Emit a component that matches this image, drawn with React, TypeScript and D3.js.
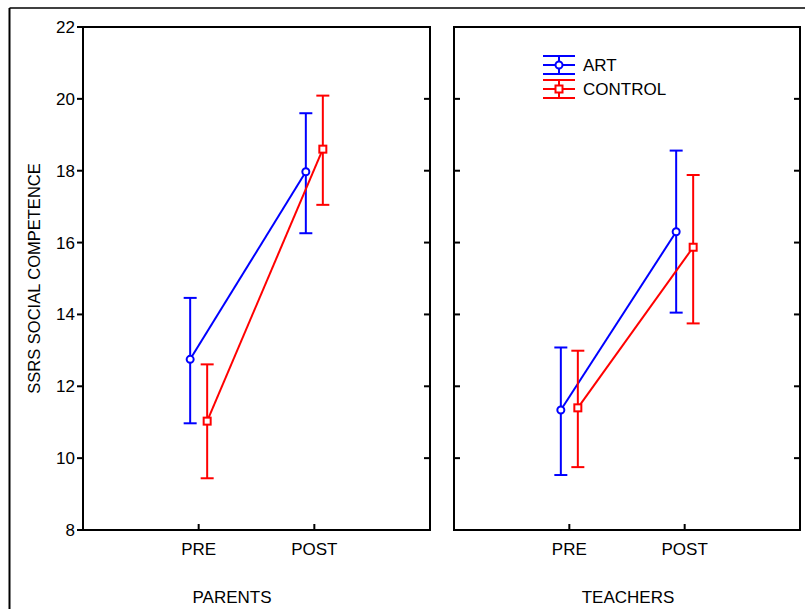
import React from 'react';
import * as d3 from 'd3';

// data
const groups = ['PARENTS', 'TEACHERS'];
const times = ['PRE', 'POST'];
const seriesNames = ['ART', 'CONTROL'];
const seriesColors = ['#0000ff', '#ff0000'];

// [group][time]
const artMean = [[12.75, 17.97], [11.34, 16.3]];
const artLow = [[10.97, 16.26], [9.53, 14.05]];
const artHigh = [[14.46, 19.6], [13.08, 18.56]];
const controlMean = [[11.03, 18.6], [11.4, 15.87]];
const controlLow = [[9.44, 17.05], [9.75, 13.75]];
const controlHigh = [[12.61, 20.09], [12.99, 17.88]];

const yTicks = [8, 10, 12, 14, 16, 18, 20, 22];

const font = '"Liberation Sans", Arial, sans-serif';

const App = () => {
  const top = 27;
  const bottom = 530;
  const panels = [
    { left: 83, right: 430, labelX: 232 },
    { left: 454, right: 800, labelX: 628 },
  ];
  const y = d3.scaleLinear().domain([8, 22]).range([bottom, top]);
  const offsets = [-8.5, 8.5];
  const cap = 6.5;

  const series = [
    { mean: artMean, low: artLow, high: artHigh },
    { mean: controlMean, low: controlLow, high: controlHigh },
  ];

  const line = d3.line<[number, number]>();

  return (
    <svg width={805} height={609} style={{ position: 'absolute', left: 0, top: 0, background: '#fff' }}>
      <rect width={805} height={609} fill="#fff" />
      {/* outer frame */}
      <line x1={9.5} y1={8} x2={805} y2={8} stroke="#000" strokeWidth={1.5} />
      <line x1={9.5} y1={8} x2={9.5} y2={609} stroke="#000" strokeWidth={2} />

      <text
        transform={`translate(40,${(top + bottom) / 2}) rotate(-90)`}
        textAnchor="middle"
        fontFamily={font}
        fontSize={16.5}
      >
        SSRS SOCIAL COMPETENCE
      </text>

      {yTicks.map((t) => (
        <g key={t}>
          <line x1={77} x2={83} y1={y(t)} y2={y(t)} stroke="#000" strokeWidth={2} />
          <text x={75} y={y(t)} dy="0.35em" textAnchor="end" fontFamily={font} fontSize={17}>
            {t}
          </text>
        </g>
      ))}

      {panels.map((p, gi) => {
        const x = d3.scalePoint<string>().domain(times).range([p.left, p.right]).padding(1);
        return (
          <g key={gi}>
            <rect
              x={p.left}
              y={top}
              width={p.right - p.left}
              height={bottom - top}
              fill="none"
              stroke="#000"
              strokeWidth={2}
            />
            {yTicks.slice(1, -1).map((t) => (
              <g key={t}>
                {gi === 1 && (
                  <line x1={p.left} x2={p.left + 6} y1={y(t)} y2={y(t)} stroke="#000" strokeWidth={2} />
                )}
                <line x1={p.right - 6} x2={p.right} y1={y(t)} y2={y(t)} stroke="#000" strokeWidth={2} />
              </g>
            ))}
            {times.map((tm) => (
              <g key={tm}>
                <line x1={x(tm)} x2={x(tm)} y1={bottom} y2={bottom - 6} stroke="#000" strokeWidth={2} />
                <text x={x(tm)} y={555} textAnchor="middle" fontFamily={font} fontSize={17}>
                  {tm}
                </text>
              </g>
            ))}
            <text x={p.labelX} y={603} textAnchor="middle" fontFamily={font} fontSize={17}>
              {groups[gi]}
            </text>

            {series.map((s, si) => {
              const color = seriesColors[si];
              const pts: [number, number][] = times.map((tm, ti) => [
                (x(tm) as number) + offsets[si],
                y(s.mean[gi][ti]),
              ]);
              return (
                <g key={si}>
                  <path d={line(pts) || ''} fill="none" stroke={color} strokeWidth={2} />
                  {times.map((tm, ti) => {
                    const cx = (x(tm) as number) + offsets[si];
                    const yl = y(s.low[gi][ti]);
                    const yh = y(s.high[gi][ti]);
                    const ym = y(s.mean[gi][ti]);
                    return (
                      <g key={tm} stroke={color} strokeWidth={2} fill="none">
                        <line x1={cx} x2={cx} y1={yl} y2={yh} />
                        <line x1={cx - cap} x2={cx + cap} y1={yh} y2={yh} />
                        <line x1={cx - cap} x2={cx + cap} y1={yl} y2={yl} />
                        {si === 0 ? (
                          <circle cx={cx} cy={ym} r={3.5} fill="#fff" />
                        ) : (
                          <rect x={cx - 3.5} y={ym - 3.5} width={7} height={7} fill="#fff" />
                        )}
                      </g>
                    );
                  })}
                </g>
              );
            })}
          </g>
        );
      })}

      {/* legend */}
      {seriesNames.map((name, si) => {
        const cy = 65 + si * 24;
        const color = seriesColors[si];
        return (
          <g key={name}>
            <g stroke={color} strokeWidth={2} fill="none">
              <line x1={543} x2={575} y1={cy - 9} y2={cy - 9} />
              <line x1={543} x2={575} y1={cy + 9} y2={cy + 9} />
              <line x1={543} x2={575} y1={cy} y2={cy} />
              <line x1={559} x2={559} y1={cy - 9} y2={cy + 9} />
              {si === 0 ? (
                <circle cx={559} cy={cy} r={3.5} fill="#fff" />
              ) : (
                <rect x={555.5} y={cy - 3.5} width={7} height={7} fill="#fff" />
              )}
            </g>
            <text x={583} y={cy} dy="0.35em" fontFamily={font} fontSize={17}>
              {name}
            </text>
          </g>
        );
      })}
    </svg>
  );
};

export default App;
